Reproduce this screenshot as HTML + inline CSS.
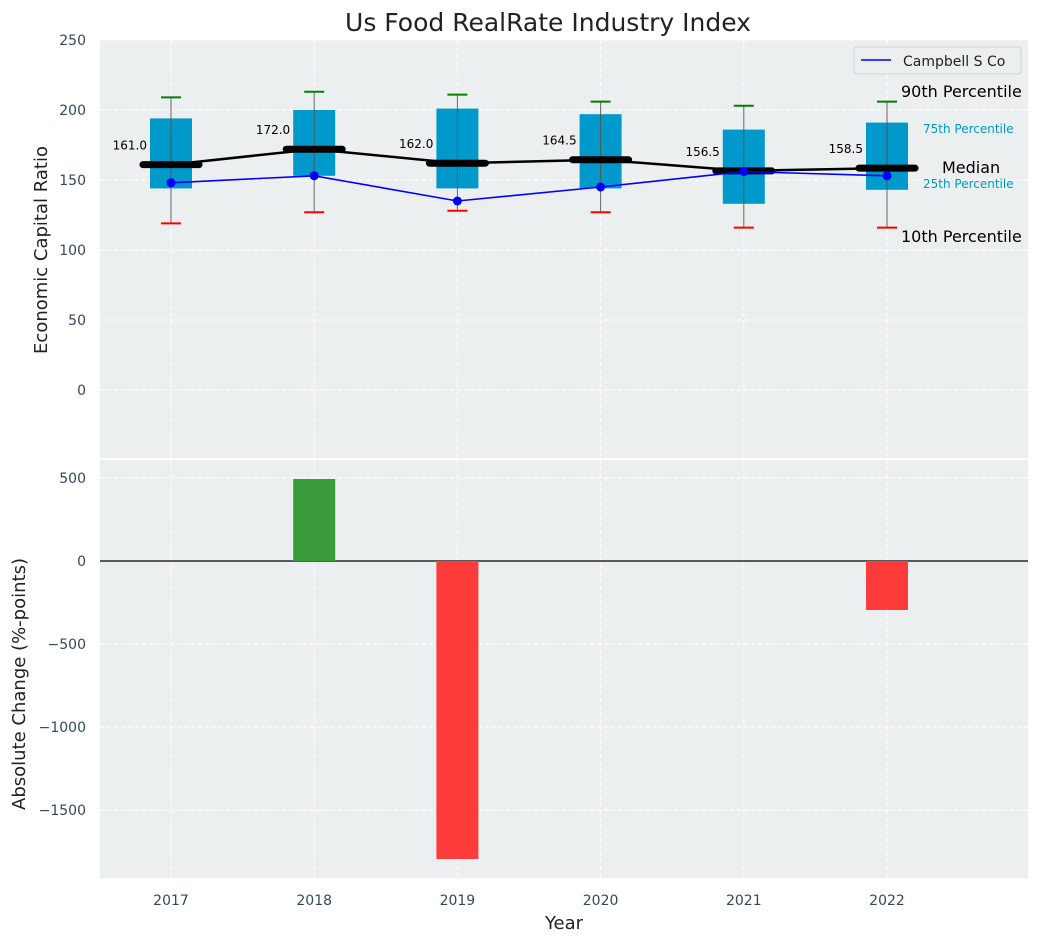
<!DOCTYPE html>
<html><head><meta charset="utf-8"><style>
body{margin:0;background:#fff;font-family:"Liberation Sans","DejaVu Sans",sans-serif}
svg text{font-family:"DejaVu Sans","Liberation Sans",sans-serif}
</style></head><body>
<svg id="c" width="1039" height="942" viewBox="0 0 1039 942" xmlns="http://www.w3.org/2000/svg"></svg>
<script>
const years=[2017,2018,2019,2020,2021,2022];
const p10=[119,127,128,127,116,116];
const q1=[144,153,144,144,133,143];
const medians=[161.0,172.0,162.0,164.5,156.5,158.5];
const q3=[194,200,201,197,186,191];
const p90=[209,213,211,206,203,206];
const campbell=[148,153,135,145,156,153];
const changes=[0,494,-1795,0,0,-295];
const topTicks=[0,50,100,150,200,250];
const botTicks=[-1500,-1000,-500,0,500];

const svg=document.getElementById('c');
const NS='http://www.w3.org/2000/svg';
function el(t,a,p){const e=document.createElementNS(NS,t);for(const k in a)e.setAttribute(k,a[k]);(p||svg).appendChild(e);return e;}
const L=100,R=1028;
const x=v=>171+(v-2017)*143.2;
const yT=v=>390-v*1.4;
const yB=v=>561-v*0.166;

let b1=el('rect',{x:L,y:40,width:R-L,height:418,fill:'#ebeff0'});

let b2=el('rect',{x:L,y:460,width:R-L,height:418,fill:'#ebeff0'});


years.forEach(v=>{
 el('line',{x1:x(v),x2:x(v),y1:40,y2:458,stroke:'#fff','stroke-dasharray':'4 3'});
 el('line',{x1:x(v),x2:x(v),y1:460,y2:878,stroke:'#fff','stroke-dasharray':'4 3'});
 const t=el('text',{x:x(v),y:905,'text-anchor':'middle','font-size':14,fill:'#34495e'});t.textContent=v;
 
});
topTicks.forEach(v=>{
 el('line',{x1:L,x2:R,y1:yT(v),y2:yT(v),stroke:'#fff','stroke-dasharray':'4 3'});
 const t=el('text',{x:86,y:yT(v)+5,'text-anchor':'end','font-size':14,fill:'#34495e'});t.textContent=v;
 
});
botTicks.forEach(v=>{
 el('line',{x1:L,x2:R,y1:yB(v),y2:yB(v),stroke:'#fff','stroke-dasharray':'4 3'});
 const t=el('text',{x:86,y:yB(v)+5,'text-anchor':'end','font-size':14,fill:'#34495e'});t.textContent=(v<0?'\u2212'+(-v):v);
 
});

years.forEach((v,i)=>{
 const cx=x(v);
 const w=el('line',{x1:cx,x2:cx,y1:yT(p90[i]),y2:yT(p10[i]),stroke:'#666','stroke-width':1});
 
 const r=el('rect',{x:cx-21,y:yT(q3[i]),width:42,height:yT(q1[i])-yT(q3[i]),fill:'#0099cc'});
 
 el('line',{x1:cx,x2:cx,y1:yT(q3[i]),y2:yT(q1[i]),stroke:'#555','stroke-width':1});
 const g=el('line',{x1:cx-10,x2:cx+10,y1:yT(p90[i]),y2:yT(p90[i]),stroke:'green','stroke-width':2});
 
 const rd=el('line',{x1:cx-10,x2:cx+10,y1:yT(p10[i]),y2:yT(p10[i]),stroke:'red','stroke-width':2});
 
});
const ml=el('polyline',{points:years.map((v,i)=>x(v)+','+yT(medians[i])).join(' '),fill:'none',stroke:'#000','stroke-width':2.5});

years.forEach((v,i)=>{
 const m=el('line',{x1:x(v)-28,x2:x(v)+28,y1:yT(medians[i]),y2:yT(medians[i]),stroke:'#000','stroke-width':7,'stroke-linecap':'round'});
 
 const t=el('text',{x:x(v)-24,y:yT(medians[i])-15,'text-anchor':'end','font-size':12,fill:'#000'});t.textContent=medians[i].toFixed(1);
 
});
const cl=el('polyline',{points:years.map((v,i)=>x(v)+','+yT(campbell[i])).join(' '),fill:'none',stroke:'blue','stroke-width':1.6});

years.forEach((v,i)=>{
 const c=el('circle',{cx:x(v),cy:yT(campbell[i]),r:4.5,fill:'blue'});
 
});
const ann=[['90th Percentile',901,97,16,'#000'],['75th Percentile',923,133,12,'#0099cc'],['Median',942,173,16,'#000'],['25th Percentile',923,188,12,'#0099cc'],['10th Percentile',901,242,16,'#000']];
ann.forEach(a=>{const t=el('text',{x:a[1],y:a[2],'font-size':a[3],fill:a[4]});t.textContent=a[0];
 });
const lg=el('g',{});
el('rect',{x:854,y:47,width:167,height:27,rx:3,fill:'#ebeff0',stroke:'#d0d4d6'},lg);
el('line',{x1:861,x2:891,y1:60,y2:60,stroke:'blue','stroke-width':1.6},lg);
const lt=el('text',{x:903,y:66,'font-size':14,fill:'#222'},lg);lt.textContent='Campbell S Co';

el('line',{x1:L,x2:R,y1:yB(0),y2:yB(0),stroke:'#000','stroke-width':1.2});
years.forEach((v,i)=>{
 if(!changes[i])return;
 const y0=yB(Math.max(0,changes[i])),y1=yB(Math.min(0,changes[i]));
 const r=el('rect',{x:x(v)-21,y:y0,width:42,height:y1-y0,fill:changes[i]>0?'#3a9b3a':'#fd3b3b'});
 
});

let t=el('text',{x:548,y:31,'text-anchor':'middle','font-size':25,fill:'#222'});t.textContent='Us Food RealRate Industry Index';

t=el('text',{x:0,y:0,'text-anchor':'middle','font-size':18,fill:'#222',transform:'translate(47,250) rotate(-90)'});t.textContent='Economic Capital Ratio';

t=el('text',{x:0,y:0,'text-anchor':'middle','font-size':18,fill:'#222',transform:'translate(25,684) rotate(-90)'});t.textContent='Absolute Change (%-points)';

t=el('text',{x:564,y:929,'text-anchor':'middle','font-size':18,fill:'#222'});t.textContent='Year';

</script>
</body></html>
